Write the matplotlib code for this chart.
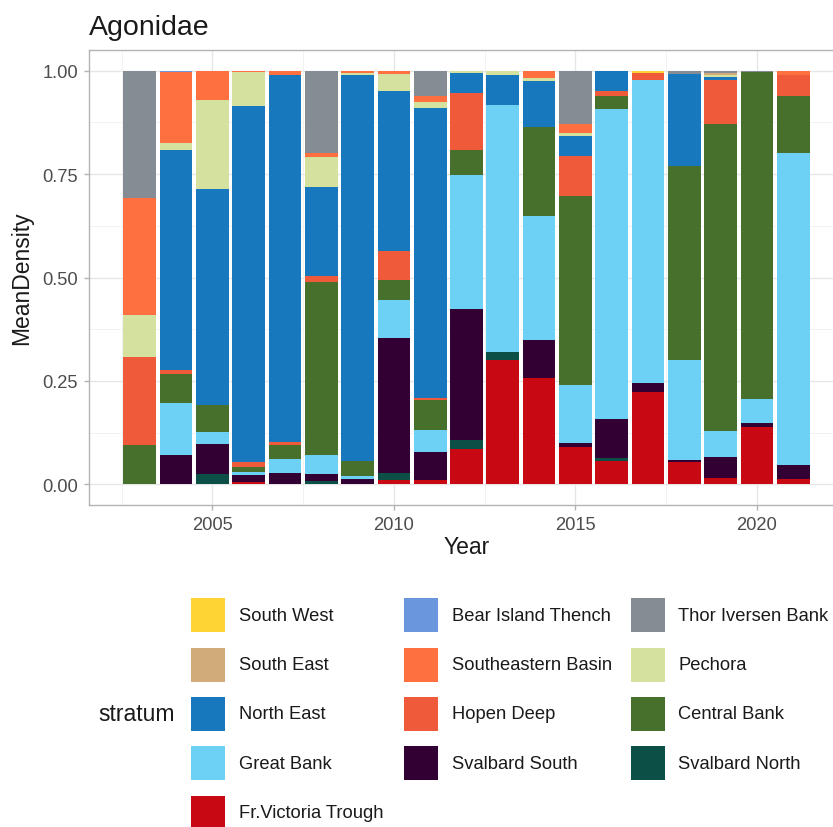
import matplotlib
matplotlib.use("Agg")
import matplotlib.pyplot as plt
from matplotlib.patches import Rectangle
from matplotlib.ticker import FixedLocator

plt.rcParams['font.family'] = ['Liberation Sans', 'DejaVu Sans']

years = list(range(2003, 2022))

# legend (factor) order
strata = ["South West", "Bear Island Thench", "Thor Iversen Bank",
          "South East", "Southeastern Basin", "Pechora",
          "North East", "Hopen Deep", "Central Bank",
          "Great Bank", "Svalbard South", "Svalbard North",
          "Fr.Victoria Trough"]
colors = ["#FED434", "#6A96DE", "#868C93",
          "#D2AB7B", "#FE7040", "#D5E29F",
          "#1778BE", "#EE5A3A", "#47702C",
          "#6DD0F5", "#330033", "#0B4F46",
          "#C80813"]

# proportions per stratum, years 2003..2021
south_west         = [0, 0, 0, 0, 0, 0, 0, 0, 0, 0, 0, 0, 0, 0, 0.005, 0, 0, 0, 0]
bear_island_thench = [0, 0.003, 0, 0, 0, 0, 0, 0, 0, 0, 0, 0, 0, 0, 0, 0, 0, 0, 0]
thor_iversen_bank  = [0.309, 0, 0, 0, 0, 0.199, 0, 0, 0.060, 0, 0, 0, 0.130, 0, 0, 0.007, 0.005, 0.003, 0]
south_east         = [0, 0, 0, 0, 0, 0, 0, 0, 0, 0, 0, 0, 0, 0, 0, 0, 0.006, 0, 0]
southeastern_basin = [0.282, 0.171, 0.072, 0.003, 0.010, 0.009, 0.005, 0.007, 0.016, 0, 0, 0.017, 0.020, 0, 0, 0, 0, 0, 0.011]
pechora            = [0.101, 0.018, 0.213, 0.083, 0, 0.073, 0.006, 0.042, 0.014, 0.005, 0.011, 0.009, 0.008, 0, 0, 0, 0.004, 0, 0]
north_east         = [0, 0.532, 0.523, 0.859, 0.887, 0.215, 0.933, 0.387, 0.701, 0.049, 0.073, 0.110, 0.048, 0.049, 0, 0.223, 0.008, 0, 0]
hopen_deep         = [0.213, 0.010, 0, 0.012, 0.008, 0.014, 0, 0.071, 0.004, 0.137, 0, 0, 0.097, 0.012, 0.018, 0, 0.107, 0, 0.051]
central_bank       = [0.095, 0.070, 0.065, 0.014, 0.034, 0.419, 0.037, 0.048, 0.074, 0.060, 0, 0.215, 0.457, 0.031, 0, 0.470, 0.740, 0.791, 0.136]
great_bank         = [0, 0.125, 0.030, 0.007, 0.034, 0.047, 0.007, 0.091, 0.052, 0.326, 0.595, 0.300, 0.139, 0.749, 0.733, 0.241, 0.065, 0.057, 0.755]
svalbard_south     = [0, 0.071, 0.073, 0.016, 0.027, 0.015, 0.012, 0.327, 0.069, 0.316, 0, 0.091, 0.010, 0.095, 0.020, 0.006, 0.049, 0.011, 0.034]
svalbard_north     = [0, 0, 0.024, 0, 0, 0.009, 0, 0.017, 0, 0.022, 0.021, 0, 0, 0.008, 0, 0, 0, 0, 0]
fr_victoria_trough = [0, 0, 0, 0.006, 0, 0, 0, 0.010, 0.010, 0.085, 0.300, 0.258, 0.091, 0.056, 0.224, 0.053, 0.016, 0.138, 0.013]

values = {
    "South West": south_west, "Bear Island Thench": bear_island_thench,
    "Thor Iversen Bank": thor_iversen_bank, "South East": south_east,
    "Southeastern Basin": southeastern_basin, "Pechora": pechora,
    "North East": north_east, "Hopen Deep": hopen_deep,
    "Central Bank": central_bank, "Great Bank": great_bank,
    "Svalbard South": svalbard_south, "Svalbard North": svalbard_north,
    "Fr.Victoria Trough": fr_victoria_trough,
}
color_of = dict(zip(strata, colors))

W, H = 833, 828
fig = plt.figure(figsize=(W / 100, H / 100), dpi=100)

# panel in pixel coords
pl, pt, pr, pb = 89, 51, 844, 506
ax = fig.add_axes([pl / W, 1 - pb / H, (pr - pl) / W, (pb - pt) / H])

bottom = [0.0] * len(years)
for name in reversed(strata):
    v = values[name]
    ax.bar(years, v, bottom=bottom, width=0.9, color=color_of[name],
           linewidth=0, zorder=3)
    bottom = [b + x for b, x in zip(bottom, v)]

ax.set_xlim(2001.6, 2022.4)
ax.set_ylim(-0.05, 1.05)
ax.xaxis.set_major_locator(FixedLocator([2005, 2010, 2015, 2020]))
ax.xaxis.set_minor_locator(FixedLocator([2002.5, 2007.5, 2012.5, 2017.5]))
ax.yaxis.set_major_locator(FixedLocator([0, 0.25, 0.5, 0.75, 1.0]))
ax.yaxis.set_minor_locator(FixedLocator([0.125, 0.375, 0.625, 0.875]))
ax.set_yticklabels(["0.00", "0.25", "0.50", "0.75", "1.00"])
ax.set_xticklabels(["2005", "2010", "2015", "2020"])

ax.grid(which='major', color='#E6E6E6', linewidth=1.0, zorder=0)
ax.grid(which='minor', color='#F0F0F0', linewidth=0.6, zorder=0)
ax.set_axisbelow(True)
for s in ax.spines.values():
    s.set_color('#B3B3B3')
    s.set_linewidth(1.0)
ax.tick_params(which='major', length=3.6, width=1.0, color='#B3B3B3',
               labelsize=13.2, labelcolor='#4D4D4D', pad=4.3)
ax.tick_params(which='minor', length=0)

ax.set_xlabel("Year", fontsize=16.5, color='#1A1A1A', va='center')
ax.xaxis.set_label_coords(0.5, (pb - 548) / (pb - pt))
ax.set_ylabel("MeanDensity", fontsize=16.5, color='#1A1A1A', va='center')
ax.yaxis.set_label_coords((22 - pl) / (pr - pl), 0.5)
ax.set_title("Agonidae", loc='left', fontsize=20.5, color='#1A1A1A', pad=11.5)

# legend (row-wise, 3 columns, title on the left)
fig.text(98 / W, 1 - 715 / H, "stratum", fontsize=16.5, color='#1A1A1A',
         ha='left', va='center')
key_x = [191, 404, 631]
text_x = [239, 452, 678]
row_y0, row_dy, key = 616.3, 49.35, 34
for i, name in enumerate(strata):
    r, c = divmod(i, 3)
    cy = row_y0 + r * row_dy
    fig.add_artist(Rectangle((key_x[c] / W, 1 - (cy + key / 2) / H),
                             key / W, key / H, transform=fig.transFigure,
                             facecolor=color_of[name], edgecolor='none'))
    fig.text(text_x[c] / W, 1 - cy / H, name, fontsize=13.2,
             color='#1A1A1A', ha='left', va='center')

fig.savefig("out.png", dpi=100)
